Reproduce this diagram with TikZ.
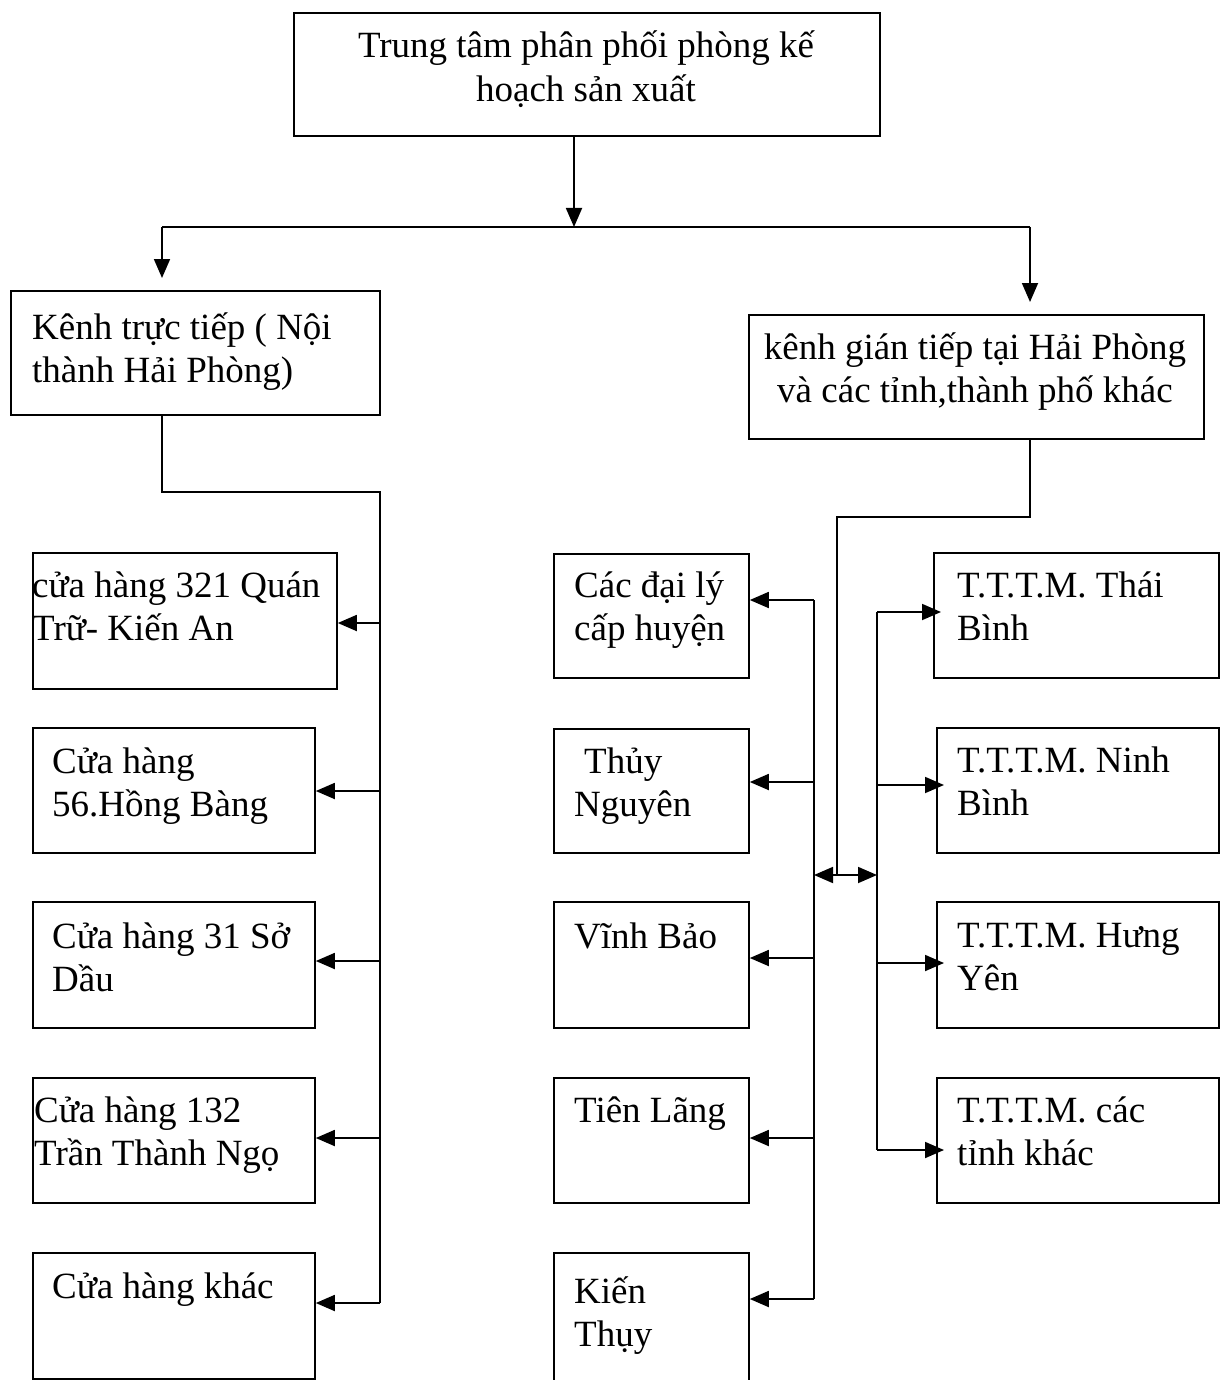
\documentclass[tikz,border=0pt]{standalone}
\usepackage{fontspec}
\setmainfont{Liberation Serif}
\usetikzlibrary{arrows.meta}
% box from top-left (x1,y1) to bottom-right (x2,y2)
\newcommand\bx[5]{\node[box, minimum width={#4-#2}, minimum height={#5-#3}] (#1) at (#2,#3) {};}
% left-aligned and centred multi-line labels, baseline at the first line
\newcommand\lft[1]{\parbox[t]{420pt}{\raggedright #1}}
\newcommand\ctr[2]{\parbox[t]{#1}{\centering #2}}
\begin{document}
\begin{tikzpicture}[x=1pt,y=-1pt,
  box/.style={draw, line width=1.8pt, rectangle, inner sep=0pt, anchor=north west},
  lbl/.style={inner sep=0pt, anchor=base west, font=\fontsize{37}{43.5}\selectfont},
  clbl/.style={inner sep=0pt, anchor=base, font=\fontsize{37}{43.5}\selectfont},
  wire/.style={line width=1.8pt},
  arr/.style={wire, -{Triangle[length=19pt,width=16pt]}},
  darr/.style={wire, {Triangle[length=19pt,width=16pt]}-{Triangle[length=19pt,width=16pt]}},
]
\useasboundingbox (0,0) rectangle (1221,1380);

% ---- top level
\bx{top}{293}{12}{879}{135}
\node[clbl] (topt) at (586,58) {\ctr{560pt}{Trung tâm phân phối phòng kế\\hoạch sản xuất}};

% ---- two channels
\bx{kt}{10}{290}{379}{414}
\node[lbl] (ktt) at (32,339) {\lft{Kênh trực tiếp ( Nội\\thành Hải Phòng)}};
\bx{kg}{748}{314}{1203}{438}
\node[clbl] (kgt) at (975,359) {\ctr{450pt}{kênh gián tiếp tại Hải Phòng\\và các tỉnh,thành phố khác}};

% ---- direct channel shops
\bx{L1}{32}{552}{336}{688}
\node[lbl] (L1t) at (32,597) {\lft{cửa hàng 321 Quán\\Trữ- Kiến An}};
\bx{L2}{32}{727}{314}{852}
\node[lbl] (L2t) at (52,773) {\lft{Cửa hàng\\56.Hồng Bàng}};
\bx{L3}{32}{901}{314}{1027}
\node[lbl] (L3t) at (52,948) {\lft{Cửa hàng 31 Sở\\Dầu}};
\bx{L4}{32}{1077}{314}{1202}
\node[lbl] (L4t) at (34,1122) {\lft{Cửa hàng 132\\Trần Thành Ngọ}};
\bx{L5}{32}{1252}{314}{1378}
\node[lbl] (L5t) at (52,1298) {\lft{Cửa hàng khác}};

% ---- district agents
\bx{M1}{553}{553}{748}{677}
\node[lbl] (M1t) at (574,597) {\lft{Các đại lý\\cấp huyện}};
\bx{M2}{553}{728}{748}{852}
\node[lbl] (M2t) at (574,773) {\lft{\hspace*{0.27em}Thủy\\Nguyên}};
\bx{M3}{553}{901}{748}{1027}
\node[lbl] (M3t) at (574,948) {\lft{Vĩnh Bảo}};
\bx{M4}{553}{1077}{748}{1202}
\node[lbl] (M4t) at (574,1122) {\lft{Tiên Lãng}};
\bx{M5}{553}{1252}{748}{1392}
\node[lbl] (M5t) at (574,1303) {\lft{Kiến\\Thụy}};

% ---- provincial trade centres
\bx{R1}{933}{552}{1218}{677}
\node[lbl] (R1t) at (957,597) {\lft{T.T.T.M. Thái\\Bình}};
\bx{R2}{936}{727}{1218}{852}
\node[lbl] (R2t) at (957,772) {\lft{T.T.T.M. Ninh\\Bình}};
\bx{R3}{936}{901}{1218}{1027}
\node[lbl] (R3t) at (957,947) {\lft{T.T.T.M. Hưng\\Yên}};
\bx{R4}{936}{1077}{1218}{1202}
\node[lbl] (R4t) at (957,1122) {\lft{T.T.T.M. các\\tỉnh khác}};

% ---- top split
\coordinate (s0) at (574,227);
\coordinate (sL) at (162,227);
\coordinate (sR) at (1030,227);
\draw[arr] (top.south -| s0) -- (s0);
\draw[wire] (sL) -- (sR);
\draw[arr, shorten >=12pt] (sL) -- (sL |- kt.north);
\draw[arr, shorten >=12pt] (sR) -- (sR |- kg.north);

% ---- direct channel bus
\coordinate (tL) at (380,492);
\coordinate (a1) at (380,623);
\coordinate (a2) at (380,791);
\coordinate (a3) at (380,961);
\coordinate (a4) at (380,1138);
\coordinate (a5) at (380,1303);
\draw[wire] (kt.south -| sL) |- (tL) -- (a5);
\foreach \i in {1,...,5} \draw[arr] (a\i) -- (a\i -| L\i.east);

% ---- indirect channel bus
\coordinate (tR) at (837,517);
\coordinate (hub) at (837,875);
\draw[wire] (kg.south -| sR) |- (tR) -- (hub);

\coordinate (m1) at (814,600);
\coordinate (m2) at (814,782);
\coordinate (m3) at (814,958);
\coordinate (m4) at (814,1138);
\coordinate (m5) at (814,1299);
\draw[wire] (m1) -- (m5);
\foreach \i in {1,...,5} \draw[arr] (m\i) -- (m\i -| M\i.east);

\coordinate (r1) at (877,612);
\coordinate (r2) at (877,785);
\coordinate (r3) at (877,963);
\coordinate (r4) at (877,1150);
\draw[wire] (r1) -- (r4);
\foreach \i in {1,...,4} \draw[arr, shorten >=-8pt] (r\i) -- (r\i -| R\i.west);

\draw[darr] (hub -| m1) -- (hub -| r1);
\end{tikzpicture}
\end{document}
